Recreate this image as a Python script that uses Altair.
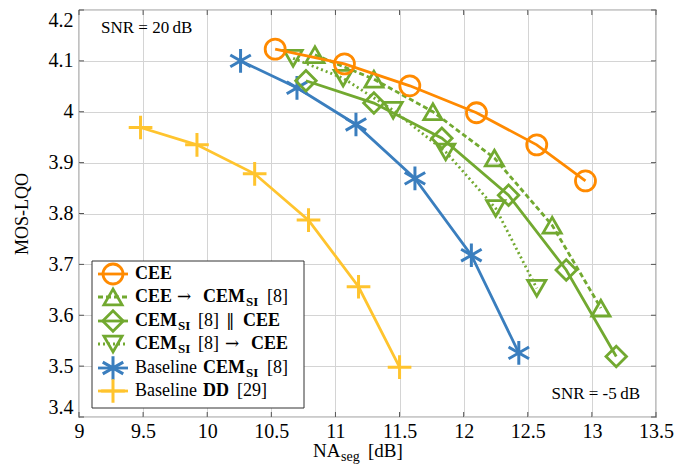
import altair as alt
import pandas as pd

# ---------------- data ----------------
cee_x = [10.53, 11.07, 11.58, 12.10, 12.57, 12.95]
cee_y = [4.123, 4.094, 4.051, 3.998, 3.935, 3.864]

cee2cem_x = [10.84, 11.30, 11.76, 12.24, 12.69, 13.07]
cee2cem_y = [4.112, 4.064, 4.000, 3.909, 3.777, 3.614]

par_x = [10.77, 11.30, 11.83, 12.35, 12.80, 13.19]
par_y = [4.061, 4.017, 3.948, 3.836, 3.689, 3.519]

cem2cee_x = [10.67, 11.06, 11.45, 11.86, 12.25, 12.57]
cem2cee_y = [4.105, 4.066, 4.003, 3.921, 3.810, 3.653]

base_cem_x = [10.26, 10.70, 11.16, 11.62, 12.06, 12.43]
base_cem_y = [4.100, 4.047, 3.975, 3.869, 3.718, 3.526]

base_dd_x = [9.48, 9.92, 10.37, 10.79, 11.18, 11.50]
base_dd_y = [3.969, 3.935, 3.878, 3.787, 3.656, 3.498]

x_ticks = [9, 9.5, 10, 10.5, 11, 11.5, 12, 12.5, 13, 13.5]
y_ticks = [3.4, 3.5, 3.6, 3.7, 3.8, 3.9, 4.0, 4.1, 4.2]

# ---------------- style ----------------
FONT = "Liberation Serif, DejaVu Serif, serif"
SYM_FONT = "DejaVu Serif, serif"
W, H = 577, 407
ORANGE = "#FF8A00"
GREEN = "#72A930"
BLUE = "#3A7EBE"
YELLOW = "#FFC42E"
LW = 2.8

ASTER = "M0,-1L0,1M-0.866,-0.5L0.866,0.5M-0.866,0.5L0.866,-0.5"
PLUS = "M-1,0L1,0M0,-1L0,1"

xs = alt.Scale(domain=[9, 13.5], nice=False, zero=False)
ys = alt.Scale(domain=[3.4, 4.2], nice=False, zero=False)

one = pd.DataFrame({"a": [0]})


def series(xv, yv, color, shape, size, dash=None, sw=LW):
    df = pd.DataFrame({"x": xv, "y": yv})
    base = alt.Chart(df)
    lkw = dict(color=color, strokeWidth=LW)
    if dash:
        lkw["strokeDash"] = dash
    line = base.mark_line(**lkw).encode(
        x=alt.X("x:Q", scale=xs), y=alt.Y("y:Q", scale=ys)
    )
    pts = base.mark_point(
        shape=shape, size=size, filled=False, color=color, strokeWidth=sw, opacity=1
    ).encode(x=alt.X("x:Q", scale=xs), y=alt.Y("y:Q", scale=ys))
    return [line, pts]


def txt(x, y, s, bold=False, size=18, align="left", baseline="middle", font=FONT):
    return alt.Chart(one).mark_text(
        text=s, font=font, fontSize=size, fontWeight="bold" if bold else "normal",
        align=align, baseline=baseline, color="black"
    ).encode(x=alt.value(x), y=alt.value(y))


# ---------------- axes frame + grid ----------------
axis_base = alt.Chart(pd.DataFrame({"x": [9, 13.5], "y": [3.4, 4.2]})).mark_point(
    opacity=0
).encode(
    x=alt.X("x:Q", scale=xs, axis=alt.Axis(
        values=x_ticks, format="~g", title=None, ticks=False, domain=False,
        grid=True, gridColor="#d4d4d4", gridWidth=1,
        labelFont=FONT, labelFontSize=20, labelColor="black", labelPadding=4,
        labelFlush=False)),
    y=alt.Y("y:Q", scale=ys, axis=alt.Axis(
        values=y_ticks, format="~g", title="MOS-LQO", ticks=False, domain=False,
        grid=True, gridColor="#d4d4d4", gridWidth=1,
        labelFont=FONT, labelFontSize=20, labelColor="black", labelPadding=6,
        labelFlush=True,
        titleFont=FONT, titleFontSize=18, titleFontWeight="normal",
        titleColor="black", titleAngle=-90, titleX=-57, titleY=H / 2,
        titleAlign="center", titleBaseline="middle")),
)

xt = pd.DataFrame({"t": x_ticks})
yt = pd.DataFrame({"t": y_ticks})
TC = "#555555"
tick_layers = [
    alt.Chart(xt).mark_rule(color=TC, strokeWidth=1).encode(
        x=alt.X("t:Q", scale=xs), y=alt.value(H), y2=alt.value(H - 5)),
    alt.Chart(xt).mark_rule(color=TC, strokeWidth=1).encode(
        x=alt.X("t:Q", scale=xs), y=alt.value(0), y2=alt.value(5)),
    alt.Chart(yt).mark_rule(color=TC, strokeWidth=1).encode(
        y=alt.Y("t:Q", scale=ys), x=alt.value(0), x2=alt.value(5)),
    alt.Chart(yt).mark_rule(color=TC, strokeWidth=1).encode(
        y=alt.Y("t:Q", scale=ys), x=alt.value(W), x2=alt.value(W - 5)),
]

# ---------------- data series ----------------
data_layers = []
data_layers += series(base_dd_x, base_dd_y, YELLOW, PLUS, 560, sw=3)
data_layers += series(base_cem_x, base_cem_y, BLUE, ASTER, 560, sw=3)
data_layers += series(cem2cee_x, cem2cee_y, GREEN, "triangle-down", 330, dash=[2, 3])
data_layers += series(par_x, par_y, GREEN, "diamond", 420)
data_layers += series(cee2cem_x, cee2cem_y, GREEN, "triangle-up", 330, dash=[5, 3])
data_layers += series(cee_x, cee_y, ORANGE, "circle", 400)

# ---------------- legend (drawn by hand) ----------------
rows_y = [264, 287, 311, 334, 358, 381]
leg = [alt.Chart(one).mark_rect(fill="white", stroke="#333333", strokeWidth=1).encode(
    x=alt.value(13), x2=alt.value(225), y=alt.value(251), y2=alt.value(398))]

leg_styles = [
    (ORANGE, "circle", 400, None, LW),
    (GREEN, "triangle-up", 330, [5, 3], LW),
    (GREEN, "diamond", 420, None, LW),
    (GREEN, "triangle-down", 330, [2, 3], LW),
    (BLUE, ASTER, 560, None, 3),
    (YELLOW, PLUS, 560, None, 3),
]
for ry, (c, shp, sz, dash, sw) in zip(rows_y, leg_styles):
    rkw = dict(color=c, strokeWidth=LW)
    if dash:
        rkw["strokeDash"] = dash
    leg.append(alt.Chart(one).mark_rule(**rkw).encode(
        x=alt.value(19), x2=alt.value(49), y=alt.value(ry)))
    leg.append(alt.Chart(one).mark_point(
        shape=shp, size=sz, filled=False, color=c, strokeWidth=sw, opacity=1
    ).encode(x=alt.value(34), y=alt.value(ry)))

SUB = 13
r = rows_y
leg += [
    txt(56, r[0], "CEE", True),

    txt(56, r[1], "CEE", True), txt(98, r[1], "→", font=SYM_FONT, size=17),
    txt(124, r[1], "CEM", True),
    txt(167, r[1] + 5, "SI", True, SUB), txt(188, r[1], "[8]"),

    txt(56, r[2], "CEM", True), txt(99, r[2] + 5, "SI", True, SUB),
    txt(119, r[2], "[8]"), txt(147, r[2], "‖", font=SYM_FONT, size=17),
    txt(164, r[2], "CEE", True),

    txt(56, r[3], "CEM", True), txt(99, r[3] + 5, "SI", True, SUB),
    txt(119, r[3], "[8]"), txt(146, r[3], "→", font=SYM_FONT, size=17),
    txt(172, r[3], "CEE", True),

    txt(56, r[4], "Baseline"), txt(124, r[4], "CEM", True),
    txt(167, r[4] + 5, "SI", True, SUB), txt(188, r[4], "[8]"),

    txt(56, r[5], "Baseline"), txt(124, r[5], "DD", True), txt(158, r[5], "[29]"),
]

# ---------------- annotations ----------------
notes = [
    txt(22, 18, "SNR = 20\u2009dB", size=17),
    txt(561, 384, "SNR = -5\u2009dB", size=17, align="right"),
    # x-axis title with subscript
    txt(234, 441, "NA", size=19),
    txt(262, 447, "seg", size=14),
    txt(289, 441, "[dB]", size=19),
]

chart = alt.layer(
    axis_base, *tick_layers, *data_layers, *leg, *notes
).properties(
    width=W, height=H,
    autosize=alt.AutoSizeParams(type="none"),
    padding={"left": 71, "top": 2, "right": 30, "bottom": 48},
).configure_view(
    stroke="#333333", strokeWidth=1.2
)

chart.save("out.html", embed_options={"renderer": "svg", "actions": False})
